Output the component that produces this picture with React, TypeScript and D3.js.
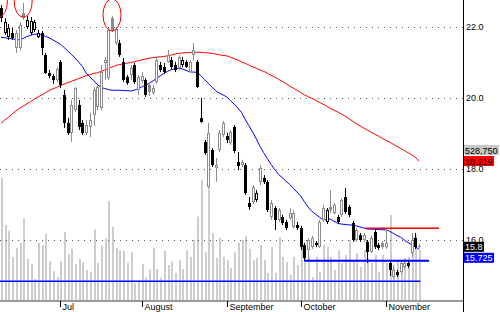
import React from 'react';
import * as d3 from 'd3';

const W = 500;
const H = 312;

// Daily OHLC (Jun – Nov)
const opens = [22.53,21.82,21.71,21.82,21.40,21.40,22.39,21.99,21.82,21.91,21.71,21.82,21.20,20.70,20.61,20.50,21.01,20.08,19.29,19.01,19.65,19.79,19.29,19.01,19.17,19.51,19.74,19.71,20.98,20.55,22.24,21.54,21.54,21.01,20.58,20.64,20.92,20.22,20.47,20.50,20.36,20.13,20.44,20.92,20.86,21.01,21.06,20.92,20.84,20.92,21.01,20.72,21.20,21.01,19.43,18.75,17.48,18.53,18.02,18.53,18.95,18.92,18.72,19.17,18.19,18.10,18.10,17.03,17.06,17.12,17.63,17.74,17.63,16.64,16.89,16.56,16.64,16.50,16.61,16.36,16.41,16.33,15.85,15.71,15.79,15.85,15.79,16.56,16.50,16.92,16.75,16.64,16.70,17.20,16.92,16.47,15.99,16.13,15.99,15.94,15.65,16.22,15.85,15.91,15.79,15.34,14.95,15.09,15.09,15.23,15.34,15.63,16.05,15.82];
const highs = [22.61,22.24,22.08,21.96,21.91,22.13,22.67,22.30,22.27,22.19,21.91,21.88,21.26,20.78,20.67,20.86,21.06,20.22,19.43,19.94,20.30,19.94,19.37,19.37,19.57,20.30,20.36,20.92,21.15,21.96,22.30,21.99,21.63,21.12,20.64,20.92,20.98,20.64,20.72,20.55,20.41,20.36,21.15,21.01,20.98,21.34,21.15,21.01,21.20,21.15,21.06,21.06,21.54,21.06,19.99,18.81,19.29,18.58,18.30,19.09,19.34,19.01,19.09,19.23,18.47,18.25,18.16,17.20,17.54,17.40,18.10,17.82,17.68,17.12,16.95,16.89,16.70,16.56,16.89,16.84,16.50,16.39,15.91,16.05,16.11,15.96,16.56,16.98,16.89,17.40,17.03,16.70,17.17,17.46,16.98,16.53,16.33,16.19,16.19,15.99,16.11,16.33,15.91,15.96,16.27,15.43,15.29,15.15,15.43,15.40,15.40,16.19,16.19,15.88];
const lows = [22.13,21.77,21.63,21.63,21.26,21.34,22.19,21.94,21.77,21.85,21.68,21.20,20.67,20.55,20.39,20.44,20.27,19.15,18.95,18.75,19.60,19.09,18.95,18.95,18.89,19.20,19.65,19.65,20.50,20.50,21.85,21.48,21.15,20.44,20.36,20.50,20.39,20.08,20.41,20.02,20.05,20.08,20.39,20.72,20.67,20.98,20.81,20.72,20.78,20.86,20.84,20.70,21.06,20.27,19.29,18.39,17.46,18.05,17.63,18.47,18.89,18.72,18.67,18.44,17.96,18.05,17.26,16.84,17.00,17.06,17.54,17.57,16.78,16.56,16.27,16.50,16.41,16.27,16.56,16.33,16.27,15.71,15.40,15.40,15.74,15.79,15.77,16.50,16.44,16.75,16.70,16.44,16.64,16.73,16.64,15.94,15.94,15.94,15.94,15.34,15.63,15.74,15.71,15.74,15.74,14.98,14.89,14.95,15.04,15.18,15.20,15.51,15.74,15.76];
const closes = [22.24,22.13,21.96,21.68,21.82,22.05,22.24,22.19,22.16,22.13,21.82,21.40,20.70,20.61,20.50,20.81,20.36,19.29,19.01,19.79,20.27,19.17,19.01,19.23,19.37,20.22,20.30,20.72,21.06,21.91,21.91,21.94,21.20,20.50,20.41,20.84,20.44,20.58,20.61,20.08,20.16,20.27,21.06,20.78,20.72,21.20,20.86,20.78,21.15,21.06,20.86,21.01,21.34,20.30,19.32,18.44,19.01,18.10,18.10,19.01,19.29,18.81,19.03,18.50,18.08,18.19,17.32,16.92,17.48,17.32,18.02,17.63,16.84,17.03,16.56,16.84,16.47,16.33,16.75,16.75,16.33,15.79,15.48,15.99,16.05,15.91,16.50,16.89,16.84,16.84,16.98,16.50,17.12,16.78,16.70,15.99,16.27,15.99,16.13,15.65,16.05,15.79,15.77,15.79,15.91,15.15,15.15,15.01,15.34,15.34,15.26,15.99,15.79,15.80];
const volumes = [431000,264000,244000,152000,183000,201000,289000,145000,127000,74000,201000,194000,233000,137000,102000,81000,137000,240000,162000,180000,127000,145000,134000,106000,100000,249000,131000,191000,217000,349000,258000,184000,176000,173000,131000,169000,59000,71000,127000,79000,108000,184000,109000,79000,173000,123000,135000,95000,141000,109000,176000,152000,212000,294000,423000,170000,399000,236000,148000,219000,153000,141000,113000,170000,201000,212000,226000,180000,141000,148000,194000,141000,95000,187000,95000,222000,152000,134000,88000,152000,123000,240000,169000,152000,81000,152000,99000,194000,187000,152000,106000,176000,130000,159000,212000,134000,166000,116000,176000,148000,130000,159000,99000,159000,130000,300000,116000,141000,123000,148000,152000,222000,229000,176000];

// Moving averages (20-day blue, 50-day red)
const ma20 = [21.70,21.69,21.67,21.66,21.64,21.63,21.67,21.72,21.76,21.79,21.79,21.77,21.73,21.69,21.63,21.57,21.51,21.42,21.32,21.22,21.12,21.00,20.88,20.69,20.59,20.48,20.38,20.29,20.26,20.23,20.21,20.21,20.21,20.20,20.20,20.19,20.21,20.25,20.30,20.35,20.40,20.47,20.54,20.61,20.68,20.74,20.79,20.81,20.83,20.81,20.77,20.73,20.72,20.72,20.62,20.51,20.41,20.30,20.20,20.13,20.08,20.02,19.92,19.82,19.71,19.58,19.39,19.21,19.03,18.84,18.63,18.45,18.28,18.12,17.97,17.84,17.75,17.65,17.56,17.45,17.34,17.23,17.07,16.92,16.80,16.72,16.64,16.56,16.57,16.58,16.52,16.46,16.44,16.43,16.42,16.41,16.39,16.36,16.33,16.30,16.30,16.29,16.29,16.28,16.28,16.24,16.18,16.12,16.07,15.99,15.92,15.86,15.80,15.725];
const ma50 = [19.28,19.37,19.45,19.54,19.63,19.70,19.76,19.83,19.89,19.96,20.02,20.08,20.14,20.20,20.25,20.29,20.34,20.38,20.42,20.46,20.50,20.54,20.58,20.62,20.65,20.68,20.70,20.74,20.78,20.82,20.86,20.91,20.93,20.95,20.97,20.99,21.01,21.04,21.06,21.09,21.11,21.13,21.14,21.15,21.16,21.18,21.20,21.23,21.25,21.26,21.27,21.27,21.28,21.28,21.28,21.27,21.26,21.25,21.23,21.21,21.19,21.18,21.14,21.10,21.06,21.01,20.97,20.92,20.87,20.83,20.78,20.74,20.69,20.63,20.58,20.52,20.46,20.40,20.33,20.27,20.21,20.14,20.08,20.03,19.98,19.93,19.87,19.82,19.76,19.70,19.65,19.60,19.54,19.48,19.41,19.34,19.27,19.21,19.15,19.09,19.03,18.97,18.92,18.86,18.80,18.75,18.69,18.63,18.57,18.51,18.45,18.39,18.32,18.219];

const priceTicks = [22, 20, 18, 16];
const monthLabels = ['Jul', 'August', 'September', 'October', 'November'];
const monthIndex = [16, 38, 61, 81, 104];

// Drawn horizontal levels: [fromIndex, toIndex, price]
const resistance = [98.4, 118.4, 16.32];
const support = [82, 115.7, 15.41];
const baseLevel = [-1, 113.3, 14.83];

// Circled highs: index and price of ellipse centres
const circleIndex = [-0.7, 6, 30];
const circlePrice = [22.72, 22.72, 22.33];

const volumeMarker = 528750;

const FONT = 'Liberation Sans, Arial, sans-serif';

function textWidth(s: string, size: number) {
  let w = 0;
  for (const c of s) w += c === '.' || c === ',' ? 0.278 : 0.556;
  return w * size;
}

export default function App() {
  const n = closes.length;
  const x = d3.scaleLinear().domain([0, n - 1]).range([1, 419.1]);
  const y = d3.scaleLinear().domain([16, 22]).range([239.7, 26.7]);
  const yv = d3.scaleLinear().domain([0, volumeMarker]).range([300, 150]);
  const axisX = 463.5;

  const line = d3.line<number>().x((_, i) => x(i)).y((v) => y(v));

  const candles = closes.map((c, i) => {
    const o = opens[i];
    const prev = i > 0 ? closes[i - 1] : o;
    const cx = Math.round(x(i));
    const color = c >= prev && i > 0 ? '#8c8c8c' : '#000';
    const hollow = c >= o;
    const top = Math.round(y(Math.max(o, c)));
    const bot = Math.max(Math.round(y(Math.min(o, c))), top + 1);
    return (
      <g key={i}>
        <line x1={cx + 0.5} x2={cx + 0.5} y1={y(highs[i])} y2={y(lows[i])} stroke={color} strokeWidth={1} />
        {hollow ? (
          <rect x={cx - 0.5} y={top + 0.5} width={2} height={Math.max(bot - top - 1, 1)} fill="#fff" stroke={color} strokeWidth={1} />
        ) : (
          <rect x={cx - 1} y={top} width={3} height={bot - top} fill={color} />
        )}
      </g>
    );
  });

  const labels = [
    { text: d3.format(',')(volumeMarker), y: yv(volumeMarker), bg: '#c8c8c8', fg: '#000' },
    { text: d3.format('.3f')(ma50[n - 1]), y: y(ma50[n - 1]), bg: '#ff0000', fg: '#000' },
    { text: d3.format('.1f')(closes[n - 1]), y: y(closes[n - 1]), bg: '#000', fg: '#fff' },
    { text: d3.format('.3f')(ma20[n - 1]), y: y(ma20[n - 1]), bg: '#0000ff', fg: '#fff' },
  ].sort((a, b) => a.y - b.y);
  let prevBottom = -Infinity;
  const boxes = labels.map((l) => {
    const top = Math.max(l.y - 5, prevBottom + 1);
    prevBottom = top + 10;
    return { ...l, top };
  });

  const level = (d: number[], color: string, width: number) => (
    <line x1={x(d[0])} x2={x(d[1])} y1={y(d[2])} y2={y(d[2])} stroke={color} strokeWidth={width} />
  );

  return (
    <svg width={W} height={H} style={{ position: 'absolute', left: 0, top: 0, background: '#fff', overflow: 'hidden' }} fontFamily={FONT}>
      <rect x={0} y={0} width={W} height={H} fill="#fff" />
      {/* volume */}
      {volumes.map((v, i) => {
        const cx = Math.round(x(i));
        return <rect key={i} x={cx} y={yv(v)} width={2} height={300 - yv(v)} fill="#cdcdcd" />;
      })}
      {/* grid */}
      {priceTicks.map((t) => (
        <line key={t} x1={0} x2={axisX} y1={Math.round(y(t)) + 0.5} y2={Math.round(y(t)) + 0.5} stroke="#555" strokeDasharray="1,5" />
      ))}
      {level(baseLevel, '#0000ff', 1.5)}
      {/* moving averages */}
      <path d={line(ma50) || ''} fill="none" stroke="#ff0000" strokeWidth={1} />
      <path d={line(ma20) || ''} fill="none" stroke="#0000ff" strokeWidth={1} />
      {candles}
      {level(resistance, '#ff0000', 1.5)}
      {level(support, '#0000ff', 2)}
      {circleIndex.map((ci, k) => (
        <ellipse key={k} cx={x(ci)} cy={y(circlePrice[k])} rx={9} ry={16} fill="none" stroke="#ff0000" strokeWidth={1} />
      ))}
      {/* bottom axis */}
      <rect x={0} y={300} width={axisX} height={2} fill="#9a9a9a" />
      {monthIndex.map((mi, k) => {
        const tx = Math.round(x(mi)) + 0.5;
        return (
          <g key={k}>
            <line x1={tx} x2={tx} y1={301} y2={307} stroke="#000" />
            <text x={tx + 2} y={309.5} fontSize={9} fill="#000">{monthLabels[k]}</text>
          </g>
        );
      })}
      {/* right axis */}
      <line x1={axisX} x2={axisX} y1={0} y2={H} stroke="#000" strokeWidth={1} />
      {priceTicks.map((t) => (
        <text key={t} x={466} y={y(t) + 3.2} fontSize={9} fill="#000">{d3.format('.1f')(t)}</text>
      ))}
      {boxes.map((b, k) => (
        <g key={k}>
          <rect x={axisX + 0.5} y={b.top} width={textWidth(b.text, 9) + 2.5} height={10} fill={b.bg} />
          <text x={axisX + 1.5} y={b.top + 8.5} fontSize={9} fill={b.fg}>{b.text}</text>
        </g>
      ))}
    </svg>
  );
}
